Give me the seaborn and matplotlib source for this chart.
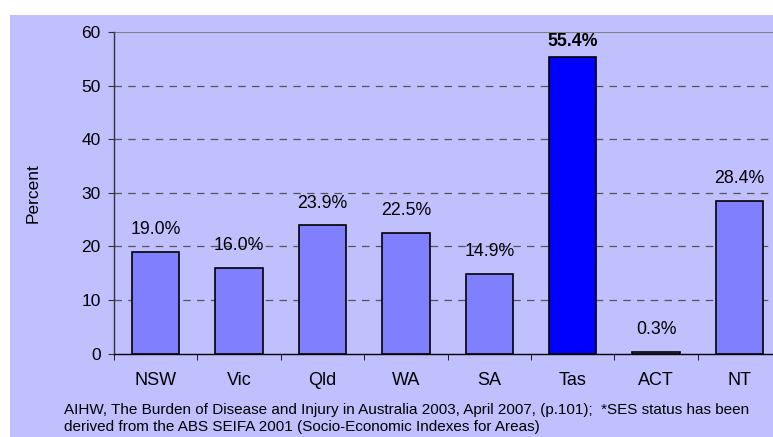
import numpy as np
import pandas as pd
import matplotlib
matplotlib.use("Agg")
import matplotlib.pyplot as plt
import seaborn as sns
from matplotlib.patches import Rectangle

states = ["NSW", "Vic", "Qld", "WA", "SA", "Tas", "ACT", "NT"]
percent = [19.0, 16.0, 23.9, 22.5, 14.9, 55.4, 0.3, 28.4]
bar_colors = ["#8080FF"] * 5 + ["#0000FF"] + ["#8080FF"] * 2
y_ticks = [0, 10, 20, 30, 40, 50, 60]
footnote = ("AIHW, The Burden of Disease and Injury in Australia 2003, April 2007, (p.101);  "
            "*SES status has been\nderived from the ABS SEIFA 2001 (Socio-Economic Indexes for Areas)")

BG = "#C0C0FF"
W, H = 773, 437

sns.set_style("white", {"text.color": "black", "axes.labelcolor": "black",
                        "xtick.color": "black", "ytick.color": "black"})
plt.rcParams["font.family"] = ["Liberation Sans", "DejaVu Sans"]

df = pd.DataFrame({"state": states, "percent": percent})

fig = plt.figure(figsize=(W / 100, H / 100), dpi=100, facecolor="white")
bg = Rectangle((10 / W, 0), 1, 1 - 15 / H, transform=fig.transFigure,
               facecolor=BG, edgecolor="none", zorder=-10)
fig.add_artist(bg)

# plot area runs a little past the right edge like the original
x0, y0 = 114, 353.6
ax = fig.add_axes([x0 / W, (H - y0) / H, 8 * 83.4 / W, (y0 - 32) / H])
ax.set_facecolor(BG)

sns.barplot(data=df, x="state", y="percent", hue="state", palette=bar_colors,
            legend=False, width=0.57, edgecolor="black", linewidth=1.2,
            saturation=1, ax=ax, zorder=3)

ax.set_xlim(-0.5, 7.5)
ax.set_ylim(0, 60)
ax.set_yticks(y_ticks)
for t in y_ticks[1:-1]:
    ax.axhline(t, color="#555555", lw=0.9, ls=(0, (6, 5)), zorder=1)
ax.axhline(60, color="#808080", lw=1.5, zorder=1)

for sp in ["top", "right"]:
    ax.spines[sp].set_visible(False)
ax.spines["left"].set_color("#333333")
ax.spines["bottom"].set_color("black")
ax.spines["left"].set_linewidth(1.0)
ax.spines["bottom"].set_linewidth(1.0)

ax.set_xticks(np.arange(8))
ax.set_xticklabels(states, fontsize=13)
ax.set_xticks(np.arange(-0.5, 8, 1), minor=True)
ax.tick_params(axis="x", which="major", length=0, pad=13)
ax.tick_params(axis="x", which="minor", length=4.5, direction="out", color="black", bottom=True)
ax.tick_params(axis="y", length=4.5, direction="out", labelsize=12.5, left=True,
               color="#333333", pad=5)

ax.set_xlabel("")
ax.set_ylabel("Percent", fontsize=12.5)
ax.yaxis.set_label_coords(-(114 - 41) / (8 * 83.4), 0.5)

for i, v in enumerate(percent):
    bold = states[i] == "Tas"
    ax.annotate(f"{v:.1f}%", (i, v), xytext=(0, 5 if bold else 10),
                textcoords="offset points", ha="center", va="bottom", fontsize=12.8,
                fontweight="bold" if bold else "normal", zorder=4)

fig.text(64 / W, 1 - 403 / H, footnote, fontsize=11, va="top", ha="left",
         linespacing=1.25)

fig.savefig("out.png", dpi=100, facecolor="white")
